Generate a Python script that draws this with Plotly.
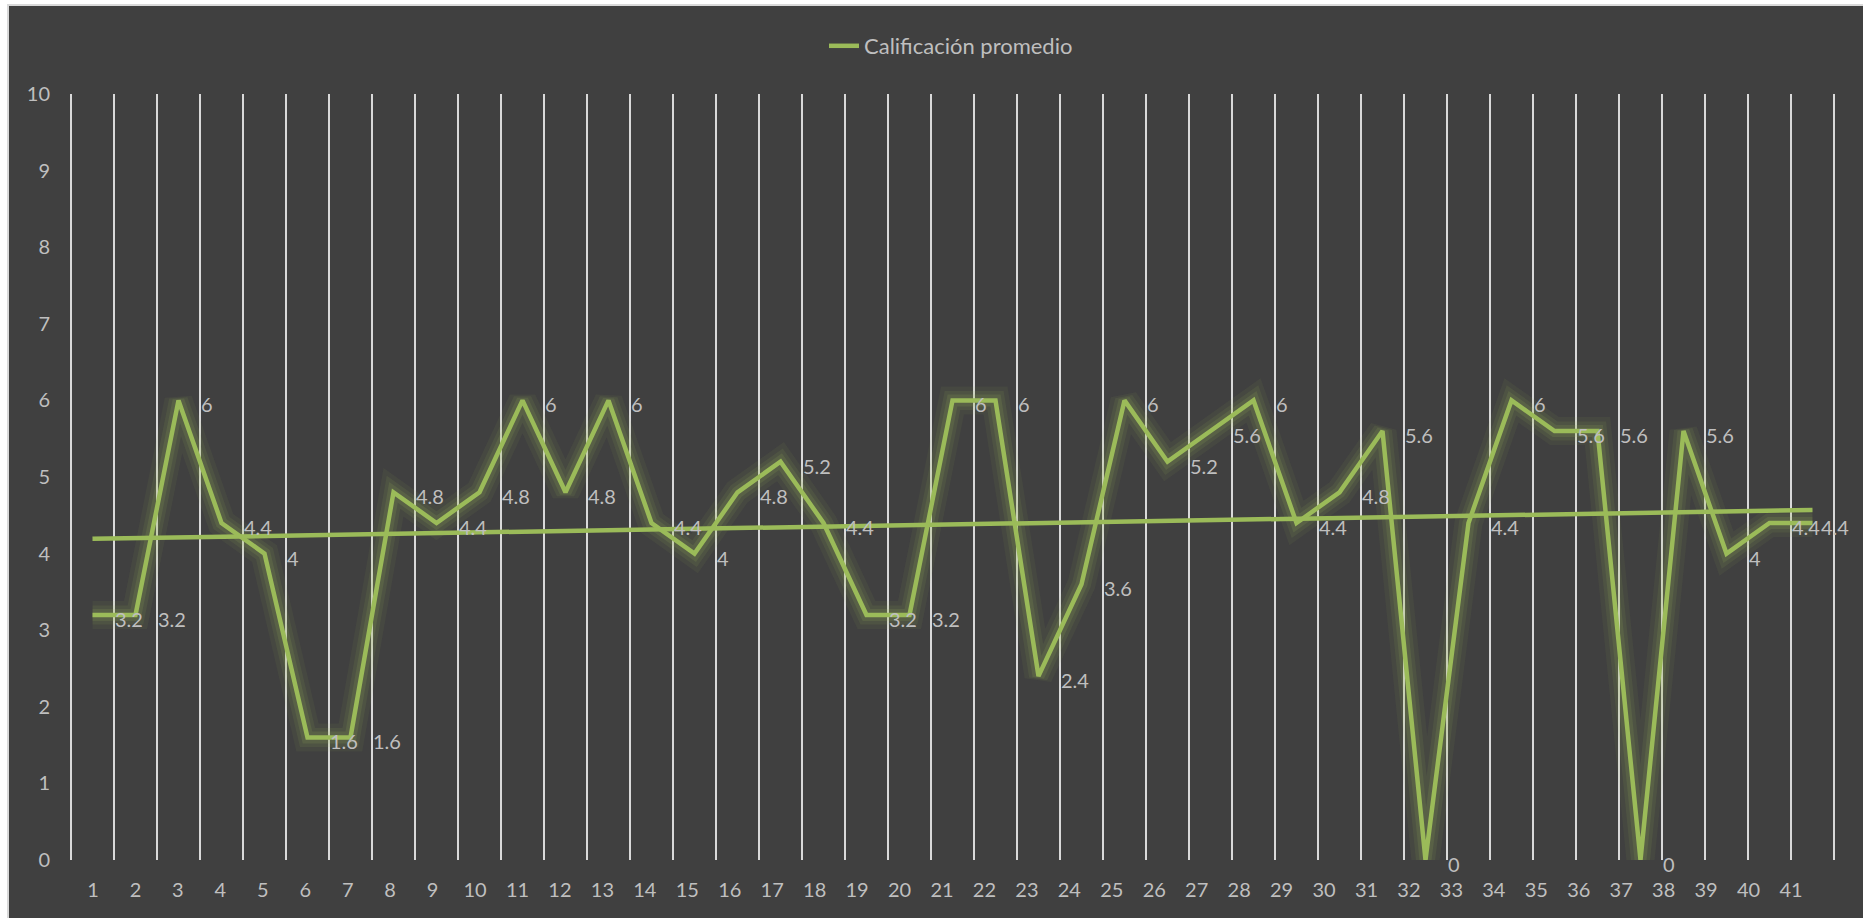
import numpy as np
import plotly.graph_objects as go

# ---------------- data ----------------
categories = list(range(1, 42))
tick_labels = [str(c) for c in categories]
calificacion = [3.2, 3.2, 6, 4.4, 4, 1.6, 1.6, 4.8, 4.4, 4.8,
                6, 4.8, 6, 4.4, 4, 4.8, 5.2, 4.4, 3.2, 3.2,
                6, 6, 2.4, 3.6, 6, 5.2, 5.6, 6, 4.4, 4.8,
                5.6, 0, 4.4, 6, 5.6, 5.6, 0, 5.6, 4, 4.4, 4.4]
series_name = "Calificación promedio"
y_ticks = list(range(0, 11))

# linear trendline (as Excel computes it)
slope, intercept = np.polyfit(categories, calificacion, 1)
trend = [slope * c + intercept for c in categories]

# ---------------- geometry / style ----------------
W, H = 1863, 918
GRID_L, GRID_R = 71, 1834          # pixel of first / last vertical grid line
PLOT_T, PLOT_B = 94, 860           # pixel of y=10 / y=0
PAD = 2                            # keep edge grid lines inside plot area
ML, MR = GRID_L - PAD, W - GRID_R - PAD
MT, MB = PLOT_T, H - PLOT_B
PW, PH = W - ML - MR, H - MT - MB
N = len(categories)
UNIT = (GRID_R - GRID_L) / N       # px per category
X_RANGE = [0.5 - PAD / UNIT, N + 0.5 + PAD / UNIT]

# Excel's category labels drift slightly relative to the plotted points
LABEL_FIRST_PX, LABEL_STEP = 93, 42.45
X2_RANGE = [1 + (ML - LABEL_FIRST_PX) / LABEL_STEP,
            1 + (W - MR - LABEL_FIRST_PX) / LABEL_STEP]

GREEN = "#9BBB59"
BG = "#404040"
TXT = "#BFBFBF"
GRID = "#D9D9D9"
FONT = "Lato"
FS = 20


def px_to_paper_x(px):
    return (px - ML) / PW


def px_to_paper_y(py):
    return (H - MB - py) / PH


fig = go.Figure()

# glow under the data line
for w, a in [(28, 0.07), (19, 0.10), (12, 0.14)]:
    fig.add_trace(go.Scatter(
        x=categories, y=calificacion, mode="lines",
        line=dict(color=f"rgba(155,187,89,{a})", width=w),
        showlegend=False, hoverinfo="skip"))

fig.add_trace(go.Scatter(
    x=categories, y=calificacion, mode="lines", name=series_name,
    line=dict(color=GREEN, width=4.5)))

fig.add_trace(go.Scatter(
    x=categories, y=trend, mode="lines", name="Lineal",
    line=dict(color=GREEN, width=4.5), showlegend=False))

# carrier trace for the category label axis
fig.add_trace(go.Scatter(
    x=categories, y=calificacion, xaxis="x2", mode="markers",
    marker=dict(opacity=0), showlegend=False, hoverinfo="skip"))

# data labels to the right of each point (Excel keeps them inside the chart)
annotations = []
for c, v in zip(categories, calificacion):
    txt = f"{v:g}"
    point_px = ML + (c - X_RANGE[0]) * UNIT
    est_w = 0.5 * FS * len(txt) + 4
    shift = min(20, (W - 10) - est_w - point_px)
    annotations.append(dict(
        x=c, y=v, xref="x", yref="y", text=txt, showarrow=False,
        xanchor="left", yanchor="middle", xshift=shift, yshift=-4,
        font=dict(family=FONT, size=FS, color=TXT)))

fig.update_layout(
    width=W, height=H,
    margin=dict(l=ML, r=MR, t=MT, b=MB),
    paper_bgcolor="white",
    plot_bgcolor="rgba(0,0,0,0)",
    font=dict(family=FONT, size=FS, color=TXT),
    showlegend=True,
    hovermode=False,
    xaxis=dict(range=X_RANGE, tickmode="linear", tick0=0.5, dtick=1,
               showgrid=True, gridcolor=GRID, gridwidth=2,
               showticklabels=False, zeroline=False, showline=False, ticks=""),
    xaxis2=dict(overlaying="x", anchor="y", side="bottom",
                range=X2_RANGE, tickmode="array",
                tickvals=categories, ticktext=tick_labels,
                showgrid=False, zeroline=False, showline=False, ticks="",
                tickfont=dict(family=FONT, size=FS, color=TXT),
                ticklabelstandoff=16),
    yaxis=dict(range=[0, 10], tickmode="array", tickvals=y_ticks,
               showgrid=False, zeroline=False, showline=False, ticks="",
               tickfont=dict(family=FONT, size=FS, color=TXT),
               ticklabelstandoff=18),
    legend=dict(orientation="h", x=px_to_paper_x(951), xanchor="center",
                y=px_to_paper_y(46), yanchor="middle",
                bgcolor="rgba(0,0,0,0)",
                font=dict(family=FONT, size=22, color=TXT)),
    annotations=annotations,
    shapes=[dict(type="rect", xref="paper", yref="paper", layer="below",
                 x0=px_to_paper_x(8), x1=px_to_paper_x(W + 20),
                 y0=px_to_paper_y(H + 20), y1=px_to_paper_y(5),
                 fillcolor=BG, line=dict(color=GRID, width=2))],
)

fig.write_html("out.html",
               config={"displayModeBar": False},
               post_script="document.body.style.margin='0';"
                           "document.body.style.overflow='hidden';")
